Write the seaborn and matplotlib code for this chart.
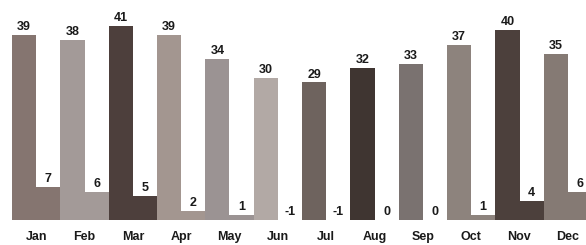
"""
Monthly high / low bar chart
"""
import matplotlib
matplotlib.use('Agg')
import matplotlib.pyplot as plt
import seaborn as sns
import pandas as pd

months = ['Jan', 'Feb', 'Mar', 'Apr', 'May', 'Jun', 'Jul', 'Aug', 'Sep', 'Oct', 'Nov', 'Dec']
high = [39, 38, 41, 39, 34, 30, 29, 32, 33, 37, 40, 35]
low = [7, 6, 5, 2, 1, -1, -1, 0, 0, 1, 4, 6]
colors = ['#857570', '#a39a98', '#4d3f3c', '#a39690', '#9b9393', '#b2a9a5',
          '#6e635e', '#3f3531', '#7a7270', '#8d837d', '#4c403c', '#857a74']

df = pd.DataFrame({
    'month': months * 2,
    'kind': ['high'] * 12 + ['low'] * 12,
    'value': high + low,
})

sns.set_style('white')
plt.rcParams['font.family'] = ['Liberation Sans', 'DejaVu Sans']

fig = plt.figure(figsize=(5.86, 2.45), dpi=100)
ax = fig.add_axes([12 / 586, 25 / 245, 580 / 586, 220 / 245])

sns.barplot(data=df, x='month', y='value', hue='kind', order=months,
            width=1.0, gap=0, legend=False, ax=ax, linewidth=0)

# every month gets its own shade, for both bars
for cont in ax.containers:
    for i, bar in enumerate(cont):
        bar.set_facecolor(colors[i])
        bar.set_edgecolor(colors[i])
        h = bar.get_height()
        top = max(h, 0)
        ax.text(bar.get_x() + bar.get_width() / 2, top + 0.4, f'{int(round(h))}',
                ha='center', va='bottom', fontsize=9, fontweight='bold', color='#1a1a1a')

ax.set_ylim(0, 46.4)
ax.set_xlim(-0.5, 11.5)
ax.set_xlabel('')
ax.set_ylabel('')
ax.set_yticks([])
ax.tick_params(axis='x', length=0, pad=8)
for lab in ax.get_xticklabels():
    lab.set_fontsize(9)
    lab.set_fontweight('bold')
    lab.set_color('#1a1a1a')
sns.despine(ax=ax, left=True, bottom=True)

plt.savefig('out.png', dpi=100)
